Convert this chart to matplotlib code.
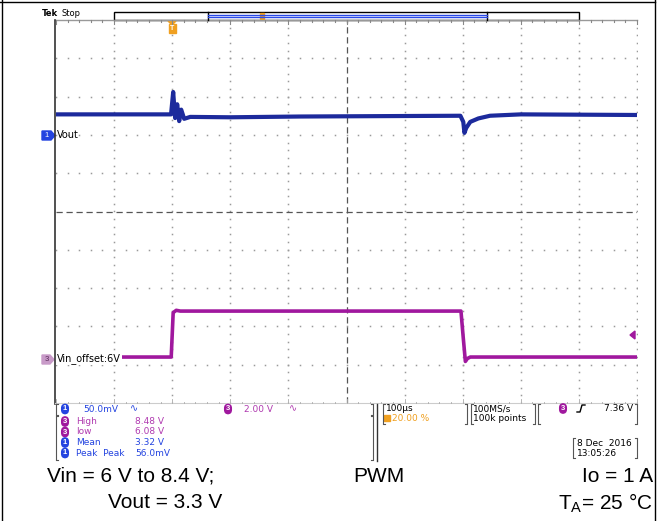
import numpy as np
import matplotlib.pyplot as plt
from matplotlib.patches import Rectangle, Polygon

plt.rcParams['font.family'] = ['Liberation Sans', 'DejaVu Sans']
plt.rcParams['mathtext.default'] = 'regular'

W, H = 668, 521

# scope readout, time in us (100 us/div, trigger at 20 %)
t_vout = [-200, -12, -2, 1.7, 5, 8.6, 12, 15.5, 20.6, 31, 100, 220, 496, 501, 503, 506, 513, 527, 547, 600, 800]
vout_mv = [26.8, 26.8, 26.8, 56, 22, 40, 18, 33, 21, 23.5, 23, 24, 25, 17, 2.6, 9, 17, 21.5, 25, 26.8, 26]
t_vin = [-200, -1.7, 1.7, 7, 14, 497, 501, 504.6, 508, 513, 800]
vin_v = [6.08, 6.08, 8.40, 8.52, 8.48, 8.48, 7.07, 5.85, 6.0, 6.08, 6.08]

meas_ch = ['3', '3', '1', '1']
meas_names = ['High', 'low', 'Mean', 'Peak  Peak']
meas_vals = ['8.48 V', '6.08 V', '3.32 V', '56.0mV']

blue = '#1c2a9c'
blue_lt = '#2444e0'
mag = '#a0189e'
mag_lt = '#b03ab0'
orange = '#f0a020'

# channel settings (position in div)
ch1_pos, ch1_scale = 2.0, 50.0
ch3_pos, ch3_scale, ch3_off = -3.84, 2.0, 6.0

fig = plt.figure(figsize=(W / 100, H / 100), dpi=100)
fig.patch.set_facecolor('white')

# graticule area
x0, x1, y0, y1 = 56, 637, 20, 403
ax = fig.add_axes([x0 / W, 1 - y1 / H, (x1 - x0) / W, (y1 - y0) / H])
ax.set_xlim(-200, 800)
ax.set_ylim(-5, 5)
ax.axis('off')

dot = '#9a9a9a'
for i in range(1, 11):
    tx = -200 + 100 * i
    if i == 5:
        continue
    ys = np.arange(-5, 5.01, 0.2)
    ax.plot([tx] * len(ys), ys, ls='none', marker='s', ms=1.1, mec='none', mfc=dot)
for j in range(-4, 5):
    if j == 0:
        continue
    xs = np.arange(-200, 800.1, 20)
    ax.plot(xs, [j] * len(xs), ls='none', marker='s', ms=1.1, mec='none', mfc=dot)
ax.plot([300, 300], [-5, 5], color='#555555', lw=0.9, dashes=(5, 3))
ax.plot([-200, 800], [0, 0], color='#555555', lw=0.9, dashes=(5, 3))

vout_div = np.array(vout_mv) / ch1_scale + ch1_pos
vin_div = (np.array(vin_v) - ch3_off) / ch3_scale + ch3_pos
ax.plot(t_vout, vout_div, color=blue, lw=3.0, solid_joinstyle='round')
ax.plot(t_vin, vin_div, color=mag, lw=2.6, solid_joinstyle='round')

# pixel overlay for the scope chrome and captions
ov = fig.add_axes([0, 0, 1, 1])
ov.set_xlim(0, W)
ov.set_ylim(H, 0)
ov.axis('off')

# frame
ov.plot([1.5, 1.5], [0, H], color='black', lw=1)
ov.plot([0, 655], [1.5, 1.5], color='black', lw=1)
ov.plot([655, 655], [0, H], color='black', lw=1)

# graticule edges
ov.plot([55, 637], [20, 20], color='#999999', lw=1)
ov.plot([55, 55], [20, 404], color='#333333', lw=1.2)
ov.plot([55, 637], [403, 403], color='#cccccc', lw=0.8)
for k in range(51):
    xx = x0 + k * (x1 - x0) / 50
    ln = 4 if k % 5 == 0 else 1.5
    ov.plot([xx, xx], [20, 20 + ln], color='#888888', lw=0.8)
    ov.plot([xx, xx], [403, 403 - ln], color='#aaaaaa', lw=0.6)

# record bar
ov.text(42, 14, 'Tek', fontsize=6, fontweight='bold', va='center', family='DejaVu Sans')
ov.text(61, 14, 'Stop', fontsize=6, va='center', family='DejaVu Sans')
ov.add_patch(Rectangle((114, 11.5), 465, 8.5, fill=False, ec='black', lw=1))
ov.plot([208, 208], [11.5, 20], color='black', lw=1)
ov.plot([487, 487], [11.5, 20], color='black', lw=1)
ov.plot([208, 487], [15, 15], color='#2a4ae8', lw=1)
ov.plot([208, 487], [17, 17], color='#2a4ae8', lw=1)
ov.add_patch(Rectangle((260, 12.5), 4, 6, color=orange))

# trigger position marker
ov.add_patch(Polygon([[168, 21], [176, 21], [172, 25]], color=orange))
ov.add_patch(Rectangle((168.5, 24), 7, 9, color=orange))
ov.text(172, 28.5, 'T', fontsize=5, color='white', ha='center', va='center', fontweight='bold')

# channel ground markers
ov.add_patch(Polygon([[42, 131], [51, 131], [55, 135.5], [51, 140], [42, 140]], color=blue_lt))
ov.text(47, 135.5, '1', fontsize=5.5, color='white', ha='center', va='center')
ov.text(57, 135, 'Vout', fontsize=7, va='center', family='DejaVu Sans')
ov.add_patch(Polygon([[42, 355], [50, 355], [54, 359.5], [50, 364], [42, 364]], color='#c89ac8'))
ov.text(47, 359.5, '3', fontsize=5.5, color='#5a2a5a', ha='center', va='center')
ov.text(57, 359, 'Vin_offset:6V', fontsize=7, va='center', family='DejaVu Sans',
        bbox=dict(fc='white', ec='none', pad=0.5))
ov.add_patch(Polygon([[630, 335], [635, 331], [635, 339]], color=mag))


def pill(x, y, s, fc, tc='white'):
    ov.text(x, y, s, fontsize=5.5, color=tc, ha='center', va='center', fontweight='bold',
            bbox=dict(boxstyle='round,pad=0.25,rounding_size=0.6', fc=fc, ec='none'))


def bracket(xa, xb, ya, yb):
    for xx, d in ((xa, 1), (xb, -1)):
        ov.plot([xx, xx], [ya + 1, yb - 1], color='#555555', lw=0.8)
        ov.plot([xx, xx + 2 * d], [ya, ya], color='#555555', lw=0.8)
        ov.plot([xx, xx + 2 * d], [yb, yb], color='#555555', lw=0.8)


# info panel
bracket(56, 373, 404, 415)
pill(65, 409, '1', blue_lt)
ov.text(83, 409, '50.0mV', fontsize=6.5, color=blue_lt, va='center', family='DejaVu Sans')
ov.text(130, 408, '∿', fontsize=7, color=blue_lt, va='center', family='DejaVu Sans')
pill(228, 409, '3', mag)
ov.text(244, 409, '2.00 V', fontsize=6.5, color=mag_lt, va='center', family='DejaVu Sans')
ov.text(289, 408, '∿', fontsize=7, color=mag_lt, va='center', family='DejaVu Sans')

bracket(56, 373, 416, 460)
for k in range(4):
    yy = 421.5 + k * 10.5
    c = mag if meas_ch[k] == '3' else blue_lt
    ct = mag_lt if meas_ch[k] == '3' else blue_lt
    pill(65, yy, meas_ch[k], c)
    ov.text(76, yy, meas_names[k], fontsize=6.5, color=ct, va='center', family='DejaVu Sans')
    ov.text(135, yy, meas_vals[k], fontsize=6.5, color=ct, va='center', family='DejaVu Sans')

ov.plot([377, 377], [404, 461], color='#333333', lw=1)
bracket(383, 467, 404, 424)
ov.text(386, 408.5, '100µs', fontsize=6.5, va='center', family='DejaVu Sans')
ov.add_patch(Rectangle((384, 415), 6, 6, color=orange))
ov.text(392, 418.5, '20.00 %', fontsize=6.5, color=orange, va='center', family='DejaVu Sans')
bracket(471, 535, 404, 424)
ov.text(473, 408.5, '100MS/s', fontsize=6.5, va='center', family='DejaVu Sans')
ov.text(473, 418.5, '100k points', fontsize=6.5, va='center', family='DejaVu Sans')
bracket(538, 637, 404, 424)
pill(563, 408.5, '3', mag)
ov.plot([577, 580, 582, 585], [412, 412, 405, 405], color='black', lw=1)
ov.text(633, 408.5, '7.36 V', fontsize=6.5, ha='right', va='center', family='DejaVu Sans')
bracket(573, 637, 438, 458)
ov.text(577, 443, '8 Dec  2016', fontsize=6.5, va='center', family='DejaVu Sans')
ov.text(577, 453, '13:05:26', fontsize=6.5, va='center', family='DejaVu Sans')

# test conditions
fs = 15
ov.text(47, 476, 'Vin = 6 V to 8.4 V;', fontsize=fs, va='center')
ov.text(222, 503, 'Vout = 3.3 V', fontsize=fs, va='center', ha='right')
ov.text(379, 476, 'PWM', fontsize=fs, va='center', ha='center')
ov.text(653, 476, 'Io = 1 A', fontsize=fs, va='center', ha='right')
ov.text(653, 503, 'T$_A$= 25 °C', fontsize=fs, va='center', ha='right')

fig.savefig('out.png', dpi=100)
